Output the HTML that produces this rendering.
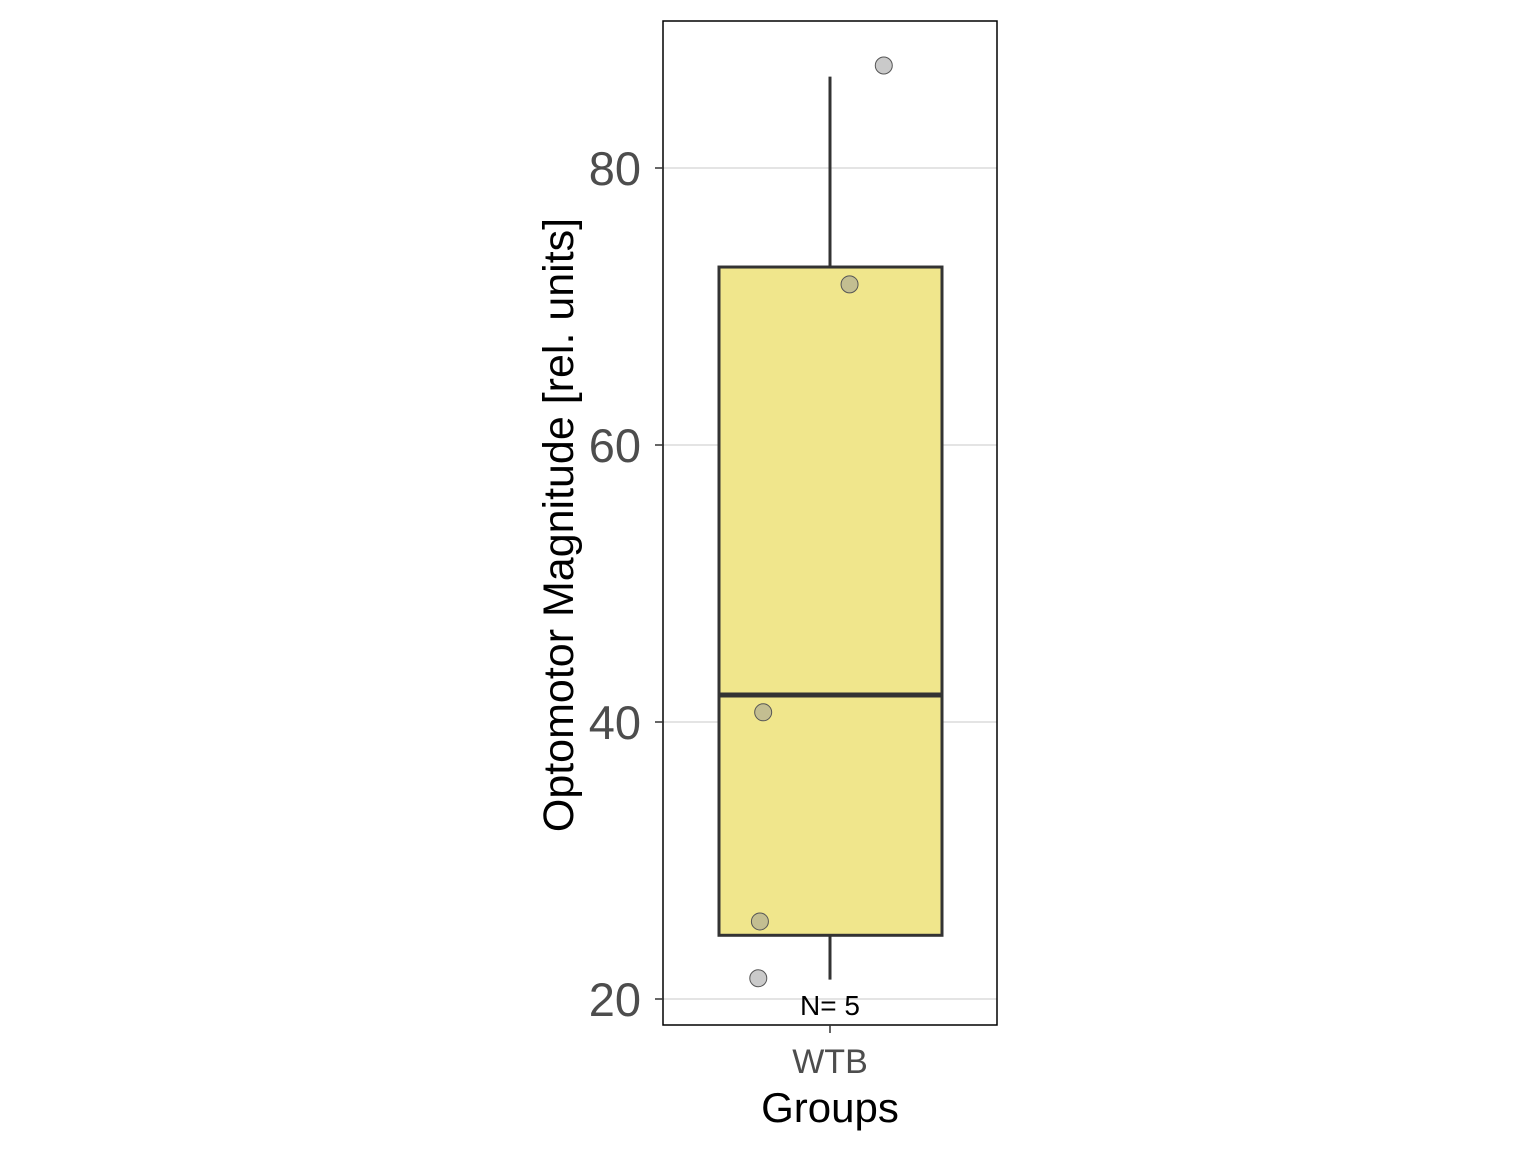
<!DOCTYPE html>
<html><head><meta charset="utf-8"><style>
html,body{margin:0;padding:0;background:#fff;}
svg{display:block;font-family:"Liberation Sans",Arial,sans-serif;}
</style></head><body>
<svg id="chart" width="1536" height="1152" viewBox="0 0 1536 1152">
<g id="grid"></g>
<g id="box"></g>
<g id="pts"></g>
<rect x="663" y="21" width="334" height="1004" fill="none" stroke="#000" stroke-width="1.5"/>
<g id="yticks"></g>
<line x1="830" y1="1025" x2="830" y2="1033" stroke="#333" stroke-width="1.5"/>
<text x="830" y="1073" font-size="34" fill="#4d4d4d" text-anchor="middle">WTB</text>
<text x="830" y="1122" font-size="42" fill="#000" text-anchor="middle">Groups</text>
<text transform="translate(573,525) rotate(-90)" font-size="43" fill="#000" text-anchor="middle">Optomotor Magnitude [rel. units]</text>
<text x="830" y="1015" font-size="28" fill="#000" text-anchor="middle">N= 5</text>
</svg>
<script>
const yTicks = [20, 40, 60, 80];
const boxStats = [21.4, 24.6, 41.95, 72.85, 86.6]; // lower whisker, q1, median, q3, upper whisker
const pointValues = [87.4, 71.6, 40.7, 25.6, 21.5];
const pointJitter = [0.33, 0.12, -0.41, -0.43, -0.44];

const ns = "http://www.w3.org/2000/svg";
function y(v){ return 999 - (v - 20) * 13.85; }
function x(j){ return 830 + j * 163; }
function mk(tag, attrs, parent){
  const e = document.createElementNS(ns, tag);
  for (const k in attrs) e.setAttribute(k, attrs[k]);
  document.getElementById(parent).appendChild(e);
  return e;
}
yTicks.forEach(t => {
  const g = mk("line", {x1:663, x2:997, y1:y(t), y2:y(t), stroke:"#dcdcdc", "stroke-width":1.5}, "grid");
  
  
  const tk = mk("line", {x1:655, x2:663, y1:y(t), y2:y(t), stroke:"#333", "stroke-width":1.5}, "yticks");
  
  
  const lb = mk("text", {x:641, y:y(t)+17, "font-size":47, fill:"#4d4d4d", "text-anchor":"end"}, "yticks");
  lb.textContent = t;
  
  
});
const [lo, q1, med, q3, hi] = boxStats;
const w1 = mk("line", {x1:830, x2:830, y1:y(q3), y2:y(hi), stroke:"#333", "stroke-width":3}, "box");


const w2 = mk("line", {x1:830, x2:830, y1:y(q1), y2:y(lo), stroke:"#333", "stroke-width":3}, "box");


const r = mk("rect", {x:719, width:223, y:y(q3), height:y(q1)-y(q3), fill:"#F0E68C", stroke:"#333", "stroke-width":3}, "box");


const m = mk("line", {x1:719, x2:942, y1:y(med), y2:y(med), stroke:"#333", "stroke-width":5}, "box");


pointValues.forEach((v, i) => {
  const c = mk("circle", {cx:x(pointJitter[i]), cy:y(v), r:8.5, fill:"rgba(150,150,150,0.5)", stroke:"#555", "stroke-width":1}, "pts");
  
  
});
</script>
</body></html>
